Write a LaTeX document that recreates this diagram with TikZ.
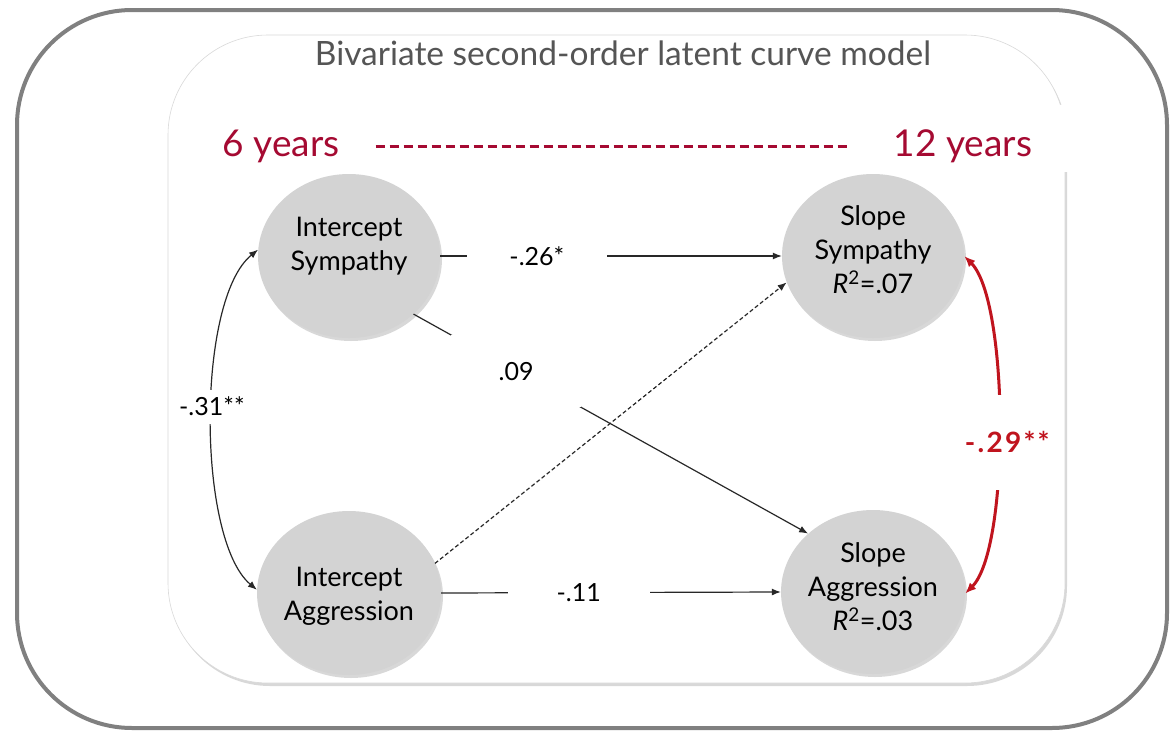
\documentclass[tikz,border=0pt]{standalone}
\usepackage{fontspec}
\setmainfont{Lato}
\usetikzlibrary{shapes.geometric,arrows.meta,shadows}
\definecolor{yearred}{RGB}{165,10,50}
\definecolor{curvered}{RGB}{192,20,30}
\definecolor{titlegray}{RGB}{85,85,85}
\definecolor{nodegray}{RGB}{211,211,211}
\definecolor{linegray}{RGB}{40,40,40}
\definecolor{framegray}{RGB}{128,128,128}
\newcommand{\liftlines}[2]{\raisebox{#1}[\height][\depth]{\begin{tabular}{@{}c@{}}#2\end{tabular}}}
\tikzset{
  latent/.style={ellipse, fill=nodegray, minimum width=182pt, minimum height=164pt,
    inner sep=0pt, align=center, font=\fontsize{27}{34}\selectfont,
    drop shadow={shadow xshift=2pt, shadow yshift=-3pt, opacity=0.3}},
  conn/.style={draw=linegray, line width=1.2pt, -{Latex[length=9pt,width=7pt]}},
  dconn/.style={conn, dash pattern=on 4pt off 2.5pt},
  dblconn/.style={draw=linegray, line width=1.2pt, {Latex[length=9pt,width=7pt]}-{Latex[length=9pt,width=7pt]}},
  redconn/.style={draw=curvered, line width=3pt, {Latex[length=11pt,width=9pt]}-{Latex[length=11pt,width=9pt]}},
  coef/.style={fill=white, inner sep=0pt, minimum height=40pt, text=black,
    font=\fontsize{25}{28}\selectfont},
  years/.style={text=yearred, font=\fontsize{37}{44}\selectfont, inner sep=2pt}
}
\begin{document}
\begin{tikzpicture}[x=1pt,y=-1pt]
\useasboundingbox (0,0) rectangle (1170,731);
% outer frame
\draw[fill=white, draw=framegray, line width=4pt, rounded corners=115pt] (17,10) rectangle (1167,728);
% inner panel
\path[fill=white, draw=black!15, line width=0.6pt, rounded corners=100pt,
  drop shadow={shadow xshift=2pt, shadow yshift=-3pt, opacity=0.3}] (168,35) rectangle (1065,683);
\fill[white] (1000,105) rectangle (1080,172);
% title
\node[text=titlegray, font=\fontsize{33.5}{38}\selectfont] (title) at (623,53) {Bivariate second-order latent curve model};
% years
\node[years] (y6) at (281,146) {6 years};
\node[years] (y12) at (963,146) {12 years};
\draw[yearred, line width=3pt, dash pattern=on 9pt off 5pt, shorten <=34pt, shorten >=45pt] (y6.east) -- (y12.west);
% latent variables
\node[latent] (IS) at (349,256) {\liftlines{9pt}{Intercept\\Sympathy}};
\node[latent] (SS) at (873,256) {\liftlines{3.5pt}{Slope\\Sympathy\\{\itshape R}\textsuperscript{2}=.07}};
\node[latent] (IA) at (349,593) {\liftlines{-4pt}{Intercept\\Aggression}};
\node[latent] (SA) at (873,592) {\liftlines{2pt}{Slope\\Aggression\\{\itshape R}\textsuperscript{2}=.03}};
% regressions
\draw[conn] (IS.east) -- node[coef, pos=0.283, minimum width=140pt] (c1) {-.26*} (SS.west);
\draw[conn] (IS.-42) -- node[coef, pos=0.26, minimum width=130pt, minimum height=72pt] (c2) {.09} (SA.138);
\draw[dconn] (IA.19) -- (SS.197);
\draw[conn] (IA.east) -- node[coef, pos=0.405, minimum width=142pt] (c3) {-.11} (SA.west);
% covariances
\draw[dblconn] (IS.176) .. controls +(-62,50) and +(-60,-50) .. node[coef, pos=0.47, minimum height=34pt, inner xsep=1pt] (c4) {-.31**} (IA.178);
\draw[redconn] (SS.0) .. controls +(45,45) and +(45,-45) .. node[coef, pos=0.54, xshift=9pt, minimum height=95pt, text=curvered, font=\fontsize{28}{30}\selectfont\bfseries\addfontfeature{LetterSpace=8}, inner xsep=1pt] (c5) {-.29**} (SA.-1);
\end{tikzpicture}
\end{document}
